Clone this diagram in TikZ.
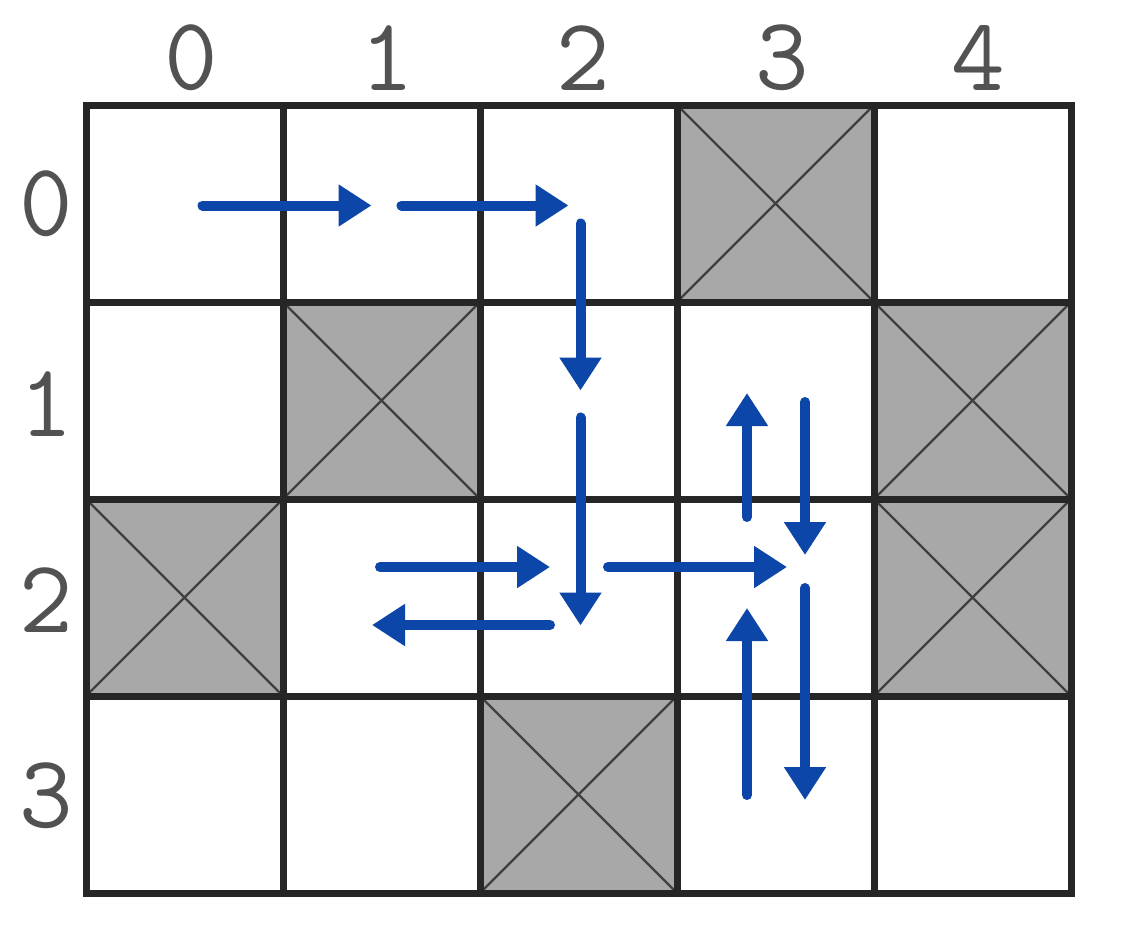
\documentclass[tikz,border=0pt]{standalone}
\usetikzlibrary{arrows.meta}
\definecolor{moveblue}{RGB}{12,70,168}
\definecolor{wallgray}{RGB}{168,168,168}

\begin{document}
\begin{tikzpicture}[x=0.5pt,y=-0.5pt,
  cell/.style={draw=black!85,line width=3.5pt,fill=white,minimum size=98.5pt,inner sep=0pt},
  blocked/.style={cell,fill=wallgray,path picture={
    \draw[black!75,line width=1.2pt] (path picture bounding box.north west) -- (path picture bounding box.south east)
      (path picture bounding box.north east) -- (path picture bounding box.south west);}},
  idx/.style={text=black!68,inner sep=0pt,font=\ttfamily\fontsize{52}{52}\selectfont},
  move/.style={moveblue,line width=5pt,line cap=round,-{Triangle[length=16.5pt,width=20pt]}}]
\useasboundingbox (0,0) rectangle (1136,950);

% grid of cells, c<row><col>
\foreach \r in {0,...,3}
  \foreach \c in {0,...,4}
    \node[cell] (c\r\c) at ({184.5+197*\c},{203.5+197*\r}) {};

% blocked cells
\node[blocked] (w03) at (c03) {};
\node[blocked] (w11) at (c11) {};
\node[blocked] (w14) at (c14) {};
\node[blocked] (w20) at (c20) {};
\node[blocked] (w24) at (c24) {};
\node[blocked] (w32) at (c32) {};

% indices
\node[idx] (col0) at (191,58) {0};
\node[idx] (col1) at (387,58) {1};
\node[idx] (col2) at (583,58) {2};
\node[idx] (col3) at (782,58) {3};
\node[idx] (col4) at (978,58) {4};
\node[idx] (row0) at (46,204) {0};
\node[idx] (row1) at (46,404) {1};
\node[idx] (row2) at (46,600) {2};
\node[idx] (row3) at (46,796) {3};

% moves
\draw[move] ([shift={(18,2)}]c00.center) -- ([shift={(-10,2)}]c01.center);
\draw[move] ([shift={(20,2)}]c01.center) -- ([shift={(-10,2)}]c02.center);
\draw[move] ([shift={(2,20)}]c02.center) -- ([shift={(2,-10)}]c12.center);
\draw[move] ([shift={(2,17)}]c12.center) -- ([shift={(2,28)}]c22.center);
\draw[move] ([shift={(-1.5,-30.5)}]c21.center) -- ([shift={(-28.5,-30.5)}]c22.center);
\draw[move] ([shift={(-28.5,27.5)}]c22.center) -- ([shift={(-9.5,27.5)}]c21.center);
\draw[move] ([shift={(29.5,-30.5)}]c22.center) -- ([shift={(11.5,-30.5)}]c23.center);
\draw[move] ([shift={(-28.5,-80.5)}]c23.center) -- ([shift={(-28.5,-7.5)}]c13.center);
\draw[move] ([shift={(29.5,1.5)}]c13.center) -- ([shift={(29.5,-42.5)}]c23.center);
\draw[move] ([shift={(-28.5,0.5)}]c33.center) -- ([shift={(-28.5,10.5)}]c23.center);
\draw[move] ([shift={(29.5,-9.5)}]c23.center) -- ([shift={(29.5,5.5)}]c33.center);

\end{tikzpicture}
\end{document}
